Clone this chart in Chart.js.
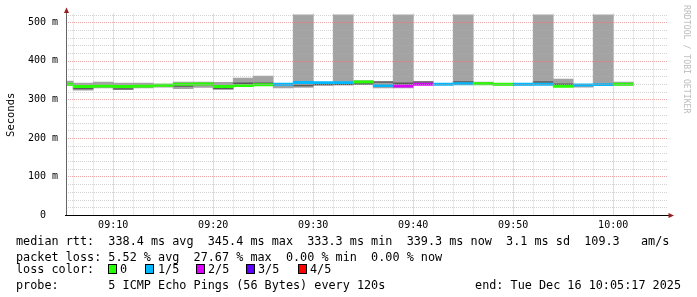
<!DOCTYPE html>
<html>
<head>
<meta charset="utf-8">
<script src="https://cdn.jsdelivr.net/npm/chart.js@4.4.1/dist/chart.umd.min.js"></script>
<style>
    body { margin: 0; background: #fff; }
    #wrap { position: relative; width: 697px; height: 297px; font-family: 'DejaVu Sans Mono', monospace; overflow: hidden; }
    #wrap canvas { position: absolute; left: 0; top: 0; }
    .t { position: absolute; font-size: 11.8px; line-height: 14px; white-space: pre; color: #000; }
    .sq { position: absolute; width: 7px; height: 8px; border: 1px solid #000; }
    #brand { position: absolute; left: 692px; top: 5px; font-size: 8.2px; line-height: 11px; color: #bbb;
             white-space: pre; transform: rotate(90deg); transform-origin: 0 0; }
</style>
</head>
<body>
<div id="wrap">
    <canvas id="rttChart" width="697" height="297"></canvas>
    <div id="brand">RRDTOOL / TOBI OETIKER</div>
    <div class="t" style="left:16px;top:234px">median rtt:  338.4 ms avg  345.4 ms max  333.3 ms min  339.3 ms now  3.1 ms sd  109.3   am/s</div>
    <div class="t" style="left:16px;top:250px">packet loss: 5.52 % avg  27.67 % max  0.00 % min  0.00 % now</div>
    <div class="t" style="left:16px;top:262px">loss color:</div>
    <div id="lossLegend"></div>
    <div class="t" style="left:16px;top:278px">probe:       5 ICMP Echo Pings (56 Bytes) every 120s</div>
    <div class="t" style="right:16px;top:278px">end: Tue Dec 16 10:05:17 2025</div>
</div>
<script>
// 2 minute slots (start time), one per probe round
const slotStart = ['09:04', '09:06', '09:08', '09:10', '09:12', '09:14', '09:16', '09:18', '09:20', '09:22',
    '09:24', '09:26', '09:28', '09:30', '09:32', '09:34', '09:36', '09:38', '09:40', '09:42',
    '09:44', '09:46', '09:48', '09:50', '09:52', '09:54', '09:56', '09:58', '10:00'];

// median rtt in ms
const medianMs = [339.4, 333.5, 334.7, 333.3, 334.5, 336.5, 339.0, 340.0, 333.6, 336.0,
    337.8, 339.5, 344.0, 343.5, 343.5, 345.4, 336.0, 334.7, 339.5, 339.5,
    340.7, 340.7, 339.1, 339.0, 339.0, 334.0, 337.3, 338.3, 339.3];

// lost pings out of 5
const lossFifths = [0, 0, 0, 0, 0, 0, 0, 0, 0, 0,
    0, 1, 1, 1, 1, 0, 1, 2, 2, 1,
    1, 0, 0, 1, 1, 0, 1, 1, 0];

// smoke (ping spread), ms
const smokeMinMs = [337, 324, 329.5, 327, 330, 332, 327.7, 331, 328, 334,
    336, 329.5, 331, 338, 339, 340, 330, 330, 338, 338,
    339, 339, 337, 337, 338, 335, 332, 337, 337];
const smokeMaxMs = [347.7, 342.5, 345, 342.5, 342, 340, 345, 345, 344, 355.5,
    360.6, 340, 600, 344, 600, 348.5, 345, 600, 345, 340.5,
    600, 345, 340, 340, 600, 352.9, 338, 600, 345];
const smokeDarkMs = [null, 328.5, null, 327, null, null, 334.7, null, 328, 341.7,
    341.7, null, 336, 338, 339, 340, 345, 341.7, 345, null,
    345, null, null, null, 345, 339, null, null, null];

const lossLabels = ['0', '1/5', '2/5', '3/5', '4/5'];
const lossColors = ['#26ff00', '#00b8ff', '#dd00ff', '#5e00ff', '#ff0000'];

const xTickLabels = ['09:10', '09:20', '09:30', '09:40', '09:50', '10:00'];
const startTime = '09:05:17';
const endTime = '10:05:17';

function toMin(s) {
    const p = s.split(':').map(Number);
    return p[0] * 60 + p[1] + (p[2] || 0) / 60;
}

const xMin = toMin(startTime);
const xMax = toMin(endTime);
const centers = slotStart.map((s) => toMin(s) + 1);
const MEDIAN_HALF = 3;
const DARK_HALF = 1.2;

const gridMinutes = [];
for (let m = Math.ceil(xMin / 2) * 2; m <= xMax; m += 2) gridMinutes.push(m);

// legend boxes
const legendPos = [[108, 120], [145, 158], [196, 208], [246, 258], [298, 310]];
const lossLegend = document.getElementById('lossLegend');
lossLabels.forEach((l, i) => {
    const sq = document.createElement('div');
    sq.className = 'sq';
    sq.style.left = legendPos[i][0] + 'px';
    sq.style.top = '264px';
    sq.style.background = lossColors[i];
    lossLegend.appendChild(sq);
    const t = document.createElement('div');
    t.className = 't';
    t.style.left = legendPos[i][1] + 'px';
    t.style.top = '262px';
    t.textContent = l;
    lossLegend.appendChild(t);
});

const MINOR = 'rgba(175,175,175,0.55)';
const MAJOR = 'rgba(225,120,120,0.65)';

const rrdGrid = {
    id: 'rrdGrid',
    afterDatasetsDraw(chart) {
        const { ctx, chartArea: a } = chart;
        const x = chart.scales.x;
        const y = chart.scales.y;
        ctx.save();
        ctx.lineWidth = 1;
        ctx.setLineDash([1, 1]);
        x.ticks.forEach((t) => {
            const px = Math.round(x.getPixelForValue(t.value)) + 0.5;
            ctx.strokeStyle = t.value % 10 === 0 ? MAJOR : MINOR;
            ctx.beginPath();
            ctx.moveTo(px, a.top - 1);
            ctx.lineTo(px, a.bottom);
            ctx.stroke();
        });
        y.ticks.forEach((t) => {
            if (t.value === 0) return;
            const py = Math.round(y.getPixelForValue(t.value)) + 0.5;
            ctx.strokeStyle = t.value % 100 === 0 ? MAJOR : MINOR;
            ctx.beginPath();
            ctx.moveTo(a.left, py);
            ctx.lineTo(a.right + 2, py);
            ctx.stroke();
        });
        ctx.setLineDash([]);

        const ax = Math.round(a.left) + 0.5;
        const ay = Math.round(a.bottom) + 0.5;
        ctx.strokeStyle = '#666';
        ctx.beginPath();
        ctx.moveTo(ax, ay);
        ctx.lineTo(ax, a.top - 2);
        ctx.stroke();
        ctx.strokeStyle = '#000';
        ctx.beginPath();
        ctx.moveTo(a.left - 1, ay);
        ctx.lineTo(a.right + 3, ay);
        ctx.stroke();

        ctx.fillStyle = '#9b1c1c';
        ctx.beginPath();
        ctx.moveTo(ax, a.top - 7);
        ctx.lineTo(ax - 2.5, a.top - 1.5);
        ctx.lineTo(ax + 2.5, a.top - 1.5);
        ctx.closePath();
        ctx.fill();
        ctx.beginPath();
        ctx.moveTo(a.right + 8, ay);
        ctx.lineTo(a.right + 2.5, ay - 2.5);
        ctx.lineTo(a.right + 2.5, ay + 2.5);
        ctx.closePath();
        ctx.fill();
        ctx.restore();
    },
};

const barDefaults = {
    grouped: false,
    barPercentage: 1,
    categoryPercentage: 1,
    borderWidth: 0,
    clip: 0,
};

new Chart(document.getElementById('rttChart'), {
    type: 'bar',
    data: {
        datasets: [
            {
                ...barDefaults,
                label: 'median rtt',
                order: 0,
                data: centers.map((c, i) => ({ x: c, y: [medianMs[i] - MEDIAN_HALF, medianMs[i] + MEDIAN_HALF] })),
                backgroundColor: lossFifths.map((l) => lossColors[l]),
            },
            {
                ...barDefaults,
                label: 'smoke dark',
                order: 1,
                data: centers
                    .map((c, i) => (smokeDarkMs[i] == null ? null : { x: c, y: [smokeDarkMs[i] - DARK_HALF, smokeDarkMs[i] + DARK_HALF] }))
                    .filter((d) => d),
                backgroundColor: '#5a5a5a',
            },
            {
                ...barDefaults,
                label: 'smoke',
                order: 2,
                data: centers.map((c, i) => ({ x: c, y: [smokeMinMs[i], smokeMaxMs[i]] })),
                backgroundColor: '#a3a3a3',
            },
        ],
    },
    options: {
        responsive: false,
        animation: false,
        devicePixelRatio: 1,
        layout: { padding: { top: 14.6, right: 31, left: 0, bottom: 0 } },
        plugins: { legend: { display: false }, tooltip: { enabled: false } },
        scales: {
            x: {
                type: 'linear',
                min: xMin,
                max: xMax,
                offset: false,
                grid: { display: false, drawTicks: false },
                border: { display: false },
                afterFit: (s) => { s.height = 82; },
                afterBuildTicks: (s) => { s.ticks = gridMinutes.map((v) => ({ value: v })); },
                ticks: {
                    autoSkip: false,
                    maxRotation: 0,
                    padding: 4,
                    color: '#000',
                    font: { family: 'DejaVu Sans Mono', size: 10 },
                    callback: (v) => xTickLabels.find((l) => toMin(l) === v) || '',
                },
            },
            y: {
                min: 0,
                max: 520,
                grid: { display: false, drawTicks: false },
                border: { display: false },
                afterFit: (s) => { s.width = 66; },
                title: {
                    display: true,
                    text: 'Seconds',
                    color: '#000',
                    padding: { top: 5, bottom: 0 },
                    font: { family: 'DejaVu Sans Mono', size: 10.5 },
                },
                ticks: {
                    stepSize: 20,
                    autoSkip: false,
                    padding: 8,
                    color: '#000',
                    font: { family: 'DejaVu Sans Mono', size: 10 },
                    callback: (v) => (v % 100 !== 0 ? '' : v === 0 ? '0  ' : v + ' m'),
                },
            },
        },
    },
    plugins: [rrdGrid],
});
</script>
</body>
</html>
